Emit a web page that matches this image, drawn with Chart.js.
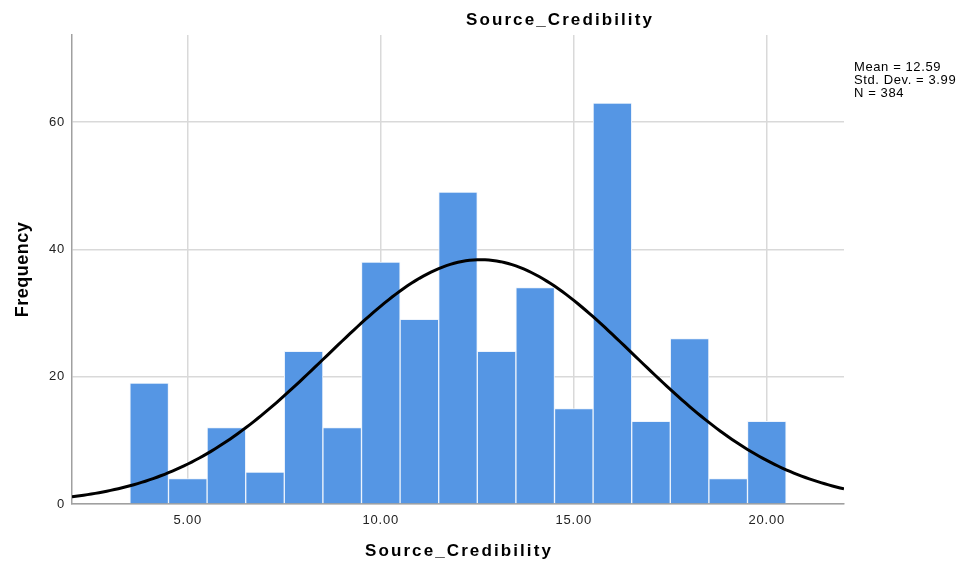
<!DOCTYPE html>
<html>
<head>
<meta charset="utf-8">
<script src="https://cdn.jsdelivr.net/npm/chart.js@4.4.1/dist/chart.umd.min.js"></script>
<style>
  html, body { margin: 0; padding: 0; background: #ffffff; }
  #wrap { width: 960px; height: 564px; position: relative; }
</style>
</head>
<body>
<div id="wrap"><canvas id="hist" width="960" height="564"></canvas></div>
<script>
// Histogram of Source_Credibility scores (bin centres and counts)
const binCenters = [4, 5, 6, 7, 8, 9, 10, 11, 12, 13, 14, 15, 16, 17, 18, 19, 20];
const binCounts  = [19, 4, 12, 5, 24, 12, 38, 29, 49, 24, 34, 15, 63, 13, 26, 4, 13];

// Summary statistics shown beside the plot
const statMean = 12.59;
const statSD = 3.99;
const statN = 384;
const statLines = ['Mean = 12.59', 'Std. Dev. = 3.99', 'N = 384'];

// Titles
const mainTitle = 'Source_Credibility';
const xTitle = 'Source_Credibility';
const yTitle = 'Frequency';

// Axis ticks
const xTicks = [5, 10, 15, 20];
const yTicks = [0, 20, 40, 60];
const xRange = [2, 22];
const yRange = [0, 73.7];

// Fitted normal curve scaled to the histogram (bin width 1)
const binWidth = 1;
const curvePoints = [];
for (let x = xRange[0]; x <= xRange[1] + 1e-9; x += 0.1) {
  const z = (x - statMean) / statSD;
  const y = statN * binWidth / (statSD * Math.sqrt(2 * Math.PI)) * Math.exp(-0.5 * z * z);
  curvePoints.push({ x: +x.toFixed(2), y: y });
}

const FONT = "'Liberation Sans', Arial, sans-serif";

// Slightly looser letter spacing for the tick labels
const spacing = {
  id: 'spacing',
  beforeDraw(chart) { chart.ctx.letterSpacing = '0.8px'; }
};

// Titles and the statistics box
const extraText = {
  id: 'extraText',
  afterDraw(chart) {
    const ctx = chart.ctx;
    const area = chart.chartArea;
    ctx.save();
    ctx.fillStyle = '#000000';
    ctx.font = 'bold 17px ' + FONT;
    ctx.letterSpacing = '2.1px';
    ctx.textAlign = 'center';
    ctx.textBaseline = 'alphabetic';
    ctx.fillText(mainTitle, 560, 25);
    ctx.fillText(xTitle, (area.left + area.right) / 2 + 1, 556);

    ctx.save();
    ctx.translate(28, (area.top + area.bottom) / 2);
    ctx.rotate(-Math.PI / 2);
    ctx.font = 'bold 18px ' + FONT;
    ctx.letterSpacing = '0.5px';
    ctx.fillText(yTitle, 0, 0);
    ctx.restore();

    ctx.font = '13px ' + FONT;
    ctx.letterSpacing = '0.6px';
    ctx.textAlign = 'left';
    ctx.textBaseline = 'middle';
    statLines.forEach((t, i) => ctx.fillText(t, 854, 67 + i * 13));
    ctx.restore();
  }
};

new Chart(document.getElementById('hist'), {
  type: 'bar',
  data: {
    datasets: [
      {
        type: 'line',
        data: curvePoints,
        borderColor: '#000000',
        borderWidth: 3,
        pointRadius: 0,
        tension: 0,
        fill: false,
        order: 0
      },
      {
        type: 'bar',
        data: binCenters.map((c, i) => ({ x: c, y: binCounts[i] })),
        backgroundColor: '#5596e4',
        borderColor: '#eef4fc',
        borderWidth: 1,
        borderSkipped: 'bottom',
        barPercentage: 1,
        categoryPercentage: 1,
        order: 1
      }
    ]
  },
  options: {
    responsive: false,
    animation: false,
    events: [],
    layout: { padding: { left: 0, top: 35, right: 116, bottom: 0 } },
    plugins: {
      legend: { display: false },
      title: { display: false },
      tooltip: { enabled: false }
    },
    scales: {
      x: {
        type: 'linear',
        min: xRange[0],
        max: xRange[1],
        offset: false,
        afterBuildTicks(scale) { scale.ticks = xTicks.map(v => ({ value: v })); },
        afterFit(scale) { scale.height = 60; },
        grid: { offset: false, color: '#d9d9d9', lineWidth: 1.5, tickLength: 0, drawTicks: false },
        border: { display: true, color: '#a0a0a0', width: 1.5 },
        ticks: {
          padding: 9,
          color: '#222222',
          font: { family: FONT, size: 13 },
          callback: v => Number(v).toFixed(2)
        },
        title: { display: false }
      },
      y: {
        type: 'linear',
        min: yRange[0],
        max: yRange[1],
        afterBuildTicks(scale) { scale.ticks = yTicks.map(v => ({ value: v })); },
        afterFit(scale) { scale.width = 72; },
        grid: { color: '#d9d9d9', lineWidth: 1.5, tickLength: 0, drawTicks: false },
        border: { display: true, color: '#a0a0a0', width: 1.5 },
        ticks: {
          padding: 7,
          color: '#222222',
          font: { family: FONT, size: 13 },
          callback: v => String(v)
        },
        title: { display: false }
      }
    }
  },
  plugins: [spacing, extraText]
});
</script>
</body>
</html>
